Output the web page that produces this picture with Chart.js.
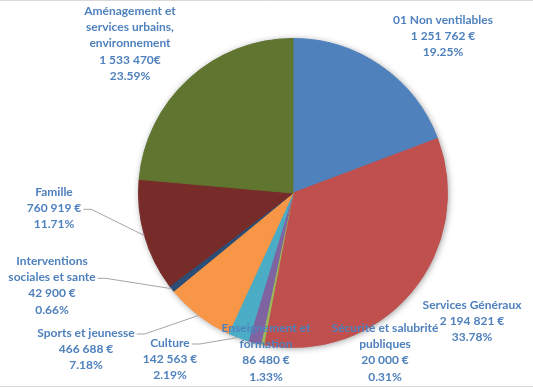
<!DOCTYPE html>
<html>
<head>
<meta charset="utf-8">
<script src="https://cdn.jsdelivr.net/npm/chart.js@4/dist/chart.umd.min.js"></script>
<style>
  html, body { margin: 0; padding: 0; background: #ffffff; }
  canvas { display: block; }
</style>
</head>
<body>
<canvas id="c" width="533" height="389"></canvas>
<script>
// ---- Data ----
const categories = [
  ['01 Non ventilables'],
  ['Services Généraux'],
  ['Sécurité et salubrité', 'publiques'],
  ['Enseignement et', 'formation'],
  ['Culture'],
  ['Sports et jeunesse'],
  ['Interventions', 'sociales et sante'],
  ['Famille'],
  ['Aménagement et', 'services urbains,', 'environnement']
];
const amounts = [1251762, 2194821, 20000, 86480, 142563, 466688, 42900, 760919, 1533470];
const amountTexts = ['1 251 762 €', '2 194 821 €', '20 000 €', '86 480 €', '142 563 €', '466 688 €', '42 900 €', '760 919 €', '1 533 470€'];
const percentTexts = ['19.25%', '33.78%', '0.31%', '1.33%', '2.19%', '7.18%', '0.66%', '11.71%', '23.59%'];

// ---- Styling ----
const sliceColors = ['#4F81BD', '#C0504D', '#9BBB59', '#8064A2', '#4BACC6', '#F79646', '#2C4D75', '#772C2A', '#5F7530'];
const labelColor = '#4F81BD';
const labelFont = 'bold 12px Lato, "Open Sans", sans-serif';
const lineHeight = 16.3;
// label placement: center x, center y of first line; leader = index of the line the leader attaches to
const labelLayout = [
  { x: 443, y: 20 },
  { x: 472, y: 305 },
  { x: 385, y: 328 },
  { x: 266, y: 328 },
  { x: 170, y: 343, leader: 0 },
  { x: 86,  y: 333, leader: 0 },
  { x: 52,  y: 261, leader: 1 },
  { x: 54,  y: 192, leader: 1 },
  { x: 130, y: 11 }
];

const framePlugin = {
  id: 'frame',
  beforeDraw(chart) {
    const ctx = chart.ctx;
    ctx.save();
    ctx.fillStyle = '#ffffff';
    ctx.fillRect(0, 0, chart.width, chart.height);
    ctx.strokeStyle = '#D9D9D9';
    ctx.lineWidth = 1;
    ctx.beginPath();
    ctx.moveTo(0, 0.5); ctx.lineTo(chart.width, 0.5);
    ctx.moveTo(0, 386.5); ctx.lineTo(chart.width, 386.5);
    ctx.stroke();
    ctx.restore();
  },
  beforeDatasetsDraw(chart) {
    const arc = chart.getDatasetMeta(0).data[0];
    if (!arc) return;
    const ctx = chart.ctx;
    ctx.save();
    ctx.shadowColor = 'rgba(0,0,0,0.45)';
    ctx.shadowBlur = 7;
    ctx.shadowOffsetX = 1;
    ctx.shadowOffsetY = 1;
    ctx.fillStyle = '#888888';
    ctx.beginPath();
    ctx.arc(arc.x, arc.y, arc.outerRadius - 0.5, 0, Math.PI * 2);
    ctx.fill();
    ctx.restore();
  },
  afterDatasetsDraw(chart) {
    const ctx = chart.ctx;
    const arcs = chart.getDatasetMeta(0).data;
    ctx.save();
    ctx.font = labelFont;
    ctx.textAlign = 'center';
    ctx.textBaseline = 'middle';
    categories.forEach((name, i) => {
      const lines = name.concat([amountTexts[i], percentTexts[i]]);
      const L = labelLayout[i];
      // leader line
      if (L.leader !== undefined) {
        const a = arcs[i];
        const mid = (a.startAngle + a.endAngle) / 2;
        const px = a.x + Math.cos(mid) * a.outerRadius;
        const py = a.y + Math.sin(mid) * a.outerRadius;
        const w = ctx.measureText(lines[L.leader]).width;
        const sx = L.x + w / 2 + 2;
        const sy = L.y + L.leader * lineHeight + 1;
        ctx.strokeStyle = '#A6A6A6';
        ctx.lineWidth = 1;
        ctx.beginPath();
        ctx.moveTo(sx, sy);
        ctx.lineTo(sx + 8, sy);
        ctx.lineTo(px, py);
        ctx.stroke();
      }
      ctx.fillStyle = labelColor;
      lines.forEach((t, k) => ctx.fillText(t, L.x, L.y + k * lineHeight));
    });
    ctx.restore();
  }
};

new Chart(document.getElementById('c'), {
  type: 'pie',
  data: {
    labels: categories.map(c => c.join(' ')),
    datasets: [{
      data: amounts,
      backgroundColor: sliceColors,
      borderColor: sliceColors,
      borderWidth: 1
    }]
  },
  options: {
    responsive: false,
    devicePixelRatio: 1,
    animation: false,
    layout: { padding: { left: 138, right: 85, top: 38, bottom: 41 } },
    plugins: { legend: { display: false }, tooltip: { enabled: false } }
  },
  plugins: [framePlugin]
});
</script>
</body>
</html>
